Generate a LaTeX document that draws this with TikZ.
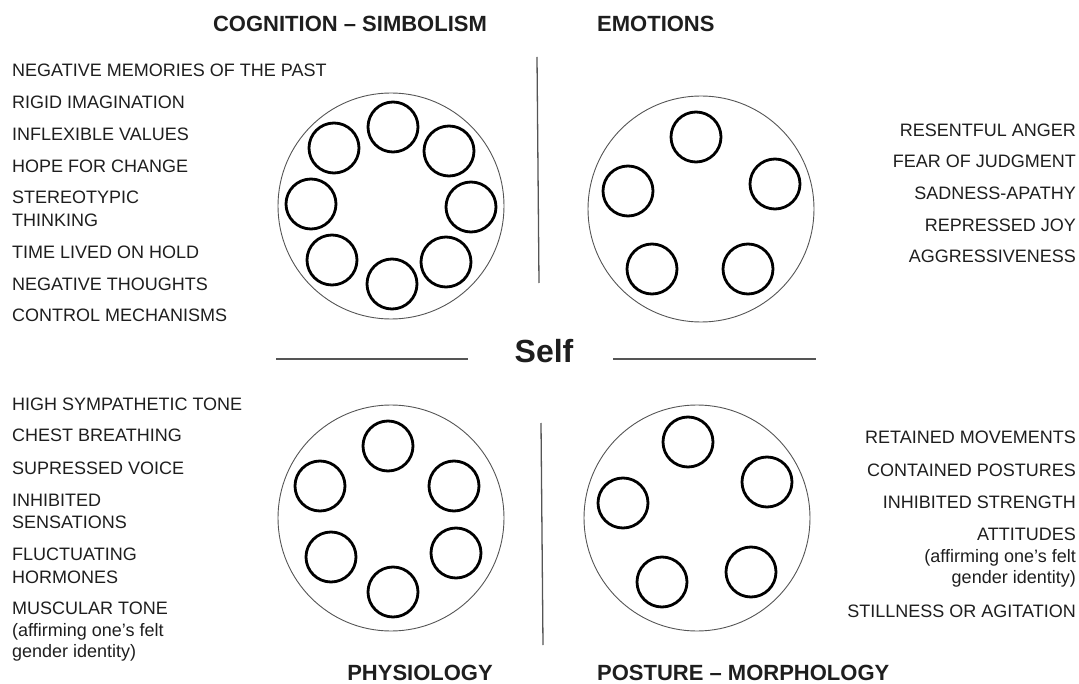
\documentclass[tikz,border=0pt]{standalone}
\usepackage{fontspec}
\setmainfont{Liberation Sans}
\definecolor{ink}{HTML}{1E1E1E}
\definecolor{rule}{HTML}{555555}
\begin{document}
\begin{tikzpicture}[x=1pt,y=-1pt,
        item/.style={inner sep=0pt,font=\fontsize{18}{21}\selectfont,text=ink},
        head/.style={inner sep=0pt,font=\bfseries\fontsize{22}{26}\selectfont,text=ink},
        wheel/.style={draw=rule,line width=0.9pt,circle,minimum size=226pt,inner sep=0pt},
        facet/.style={draw=black,line width=2.8pt,circle,minimum size=50pt,inner sep=0pt},
        divider/.style={draw=rule,line width=1.3pt}]
        \useasboundingbox (0,0) rectangle (1079,684);

        % cognition - simbolism
        \node[head,anchor=base] (cogh) at (350,32) {COGNITION – SIMBOLISM};
        \node[wheel] (cogw) at (391,206) {};
        \node[facet] (cog1) at (393,127) {};
        \node[facet] (cog2) at (449,151) {};
        \node[facet] (cog3) at (471,207) {};
        \node[facet] (cog4) at (446,262) {};
        \node[facet] (cog5) at (392,284) {};
        \node[facet] (cog6) at (332,260) {};
        \node[facet] (cog7) at (311,204) {};
        \node[facet] (cog8) at (334,148) {};
        \node[item,anchor=base west] (cogt1) at (12,77) {NEGATIVE MEMORIES OF THE PAST};
        \node[item,anchor=base west] (cogt2) at (12,109) {RIGID IMAGINATION};
        \node[item,anchor=base west] (cogt3) at (12,141) {INFLEXIBLE VALUES};
        \node[item,anchor=base west] (cogt4) at (12,173) {HOPE FOR CHANGE};
        \node[item,anchor=base west] (cogt5) at (12,204) {STEREOTYPIC};
        \node[item,anchor=base west] (cogt5b) at (12,227) {THINKING};
        \node[item,anchor=base west] (cogt6) at (12,259) {TIME LIVED ON HOLD};
        \node[item,anchor=base west] (cogt7) at (12,291) {NEGATIVE THOUGHTS};
        \node[item,anchor=base west] (cogt8) at (12,322) {CONTROL MECHANISMS};

        % emotions
        \node[head,anchor=base west] (emoh) at (597,32) {EMOTIONS};
        \node[wheel] (emow) at (701,209) {};
        \node[facet] (emo1) at (696,137) {};
        \node[facet] (emo2) at (775,184) {};
        \node[facet] (emo3) at (748,269) {};
        \node[facet] (emo4) at (652,269) {};
        \node[facet] (emo5) at (628,191) {};
        \node[item,anchor=base east] (emot1) at (1076,137) {RESENTFUL ANGER};
        \node[item,anchor=base east] (emot2) at (1076,168) {FEAR OF JUDGMENT};
        \node[item,anchor=base east] (emot3) at (1076,200) {SADNESS-APATHY};
        \node[item,anchor=base east] (emot4) at (1076,232) {REPRESSED JOY};
        \node[item,anchor=base east] (emot5) at (1076,263) {AGGRESSIVENESS};

        % self
        \node[inner sep=0pt,font=\bfseries\fontsize{32}{36}\selectfont,text=ink,anchor=base] (self) at (544,363) {Self};
        \coordinate (hl1) at (276,359);
        \coordinate (hl2) at (468,359);
        \coordinate (hr1) at (613,359);
        \coordinate (hr2) at (816,359);
        \path[divider] (hl1) -- (hl2);
        \path[divider] (hr1) -- (hr2);
        \coordinate (vt1) at (537,57);
        \coordinate (vt2) at (539,283);
        \coordinate (vb1) at (541,423);
        \coordinate (vb2) at (543,645);
        \path[divider] (vt1) -- (vt2);
        \path[divider] (vb1) -- (vb2);

        % physiology
        \node[head,anchor=base] (phyh) at (420,680) {PHYSIOLOGY};
        \node[wheel] (phyw) at (391,518) {};
        \node[facet] (phy1) at (388,446) {};
        \node[facet] (phy2) at (454,486) {};
        \node[facet] (phy3) at (456,553) {};
        \node[facet] (phy4) at (393,592) {};
        \node[facet] (phy5) at (331,557) {};
        \node[facet] (phy6) at (320,486) {};
        \node[item,anchor=base west] (phyt1) at (12,410) {HIGH SYMPATHETIC TONE};
        \node[item,anchor=base west] (phyt2) at (12,442) {CHEST BREATHING};
        \node[item,anchor=base west] (phyt3) at (12,474) {SUPRESSED VOICE};
        \node[item,anchor=base west] (phyt4) at (12,506) {INHIBITED};
        \node[item,anchor=base west] (phyt4b) at (12,528) {SENSATIONS};
        \node[item,anchor=base west] (phyt5) at (12,560) {FLUCTUATING};
        \node[item,anchor=base west] (phyt5b) at (12,583) {HORMONES};
        \node[item,anchor=base west] (phyt6) at (12,614) {MUSCULAR TONE};
        \node[item,anchor=base west] (phyt6b) at (12,636) {(affirming one’s felt};
        \node[item,anchor=base west] (phyt6c) at (12,657) {gender identity)};

        % posture - morphology
        \node[head,anchor=base west] (posh) at (597,680) {POSTURE – MORPHOLOGY};
        \node[wheel] (posw) at (697,518) {};
        \node[facet] (pos1) at (688,442) {};
        \node[facet] (pos2) at (767,482) {};
        \node[facet] (pos3) at (751,572) {};
        \node[facet] (pos4) at (662,582) {};
        \node[facet] (pos5) at (623,503) {};
        \node[item,anchor=base east] (post1) at (1076,443) {RETAINED MOVEMENTS};
        \node[item,anchor=base east] (post2) at (1076,476) {CONTAINED POSTURES};
        \node[item,anchor=base east] (post3) at (1076,508) {INHIBITED STRENGTH};
        \node[item,anchor=base east] (post4) at (1076,540) {ATTITUDES};
        \node[item,anchor=base east] (post4b) at (1076,562) {(affirming one’s felt};
        \node[item,anchor=base east] (post4c) at (1076,583) {gender identity)};
        \node[item,anchor=base east] (post5) at (1076,617) {STILLNESS OR AGITATION};
\end{tikzpicture}
\end{document}
